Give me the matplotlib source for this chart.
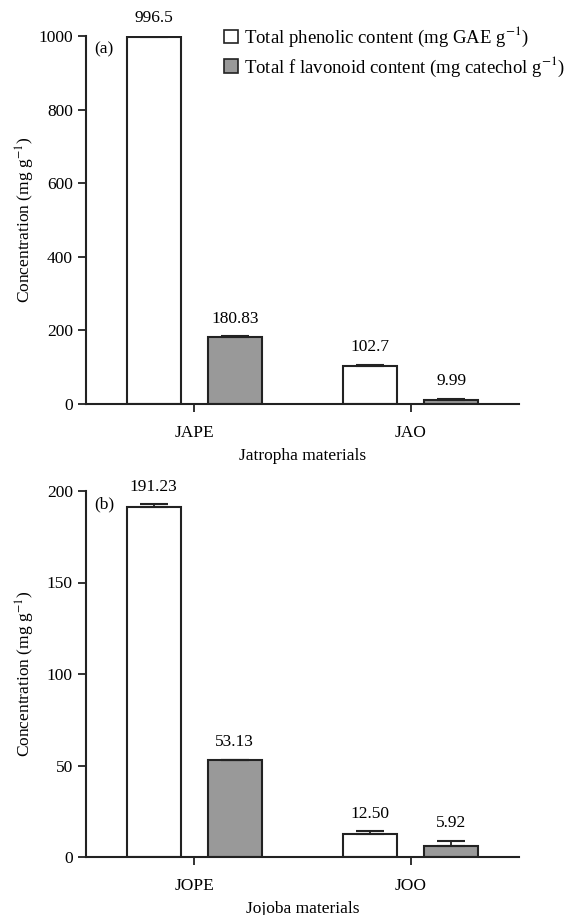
import numpy as np
import matplotlib
matplotlib.use("Agg")
import matplotlib.pyplot as plt
from matplotlib.patches import Patch

plt.rcParams['font.family'] = ['Liberation Serif', 'DejaVu Serif']
plt.rcParams['mathtext.fontset'] = 'stix'
plt.rcParams['font.size'] = 12

# data
jat_groups = ['JAPE', 'JAO']
jat_phenolic = [996.5, 102.7]
jat_phenolic_err = [3, 3]
jat_flavonoid = [180.83, 9.99]
jat_flavonoid_err = [3, 4]
jat_phenolic_lbl = ['996.5', '102.7']
jat_flavonoid_lbl = ['180.83', '9.99']

joj_groups = ['JOPE', 'JOO']
joj_phenolic = [191.23, 12.50]
joj_phenolic_err = [1.5, 1.5]
joj_flavonoid = [53.13, 5.92]
joj_flavonoid_err = [0.0, 2.8]
joj_phenolic_lbl = ['191.23', '12.50']
joj_flavonoid_lbl = ['53.13', '5.92']

legend_labels = [r'Total phenolic content (mg GAE g$^{-1}$)',
                 r'Total f lavonoid content (mg catechol g$^{-1}$)']
gray = '#999999'
fs = 12.5

fig = plt.figure(figsize=(5.68, 9.15), dpi=100)
ax1 = fig.add_axes([86/568, 1-404/915, 433/568, 368/915])
ax2 = fig.add_axes([86/568, 1-857/915, 433/568, 366/915])


def draw(ax, groups, ph, ph_err, fl, fl_err, ph_lbl, fl_lbl, ymax, step, xlabel, tag):
    x = np.arange(len(groups))
    w = 0.25
    off = 0.1875
    for xs, vals, errs, lbls, col in [(x - off, ph, ph_err, ph_lbl, 'white'),
                                      (x + off, fl, fl_err, fl_lbl, gray)]:
        ax.bar(xs, vals, w, color=col, edgecolor='#222222', linewidth=1.5, zorder=2)
        ax.errorbar(xs, vals, yerr=[np.zeros(len(errs)), errs], fmt='none',
                    ecolor='#222222', elinewidth=1.3, capsize=10, capthick=1.5, zorder=3)
        for xi, v, e, t in zip(xs, vals, errs, lbls):
            ax.annotate(t, (xi, v + e), xytext=(0, 7), textcoords='offset points',
                        ha='center', va='bottom', fontsize=fs)
    ax.set_xlim(-0.5, 1.5)
    ax.set_ylim(0, ymax)
    ax.set_yticks(np.arange(0, ymax + 1, step))
    ax.set_xticks(x)
    ax.set_xticklabels(groups)
    for s in ['top', 'right']:
        ax.spines[s].set_visible(False)
    for s in ['left', 'bottom']:
        ax.spines[s].set_linewidth(1.5)
        ax.spines[s].set_color('#222222')
    ax.tick_params(direction='out', length=6, width=1.3, labelsize=fs, color='#222222')
    ax.tick_params(axis='x', pad=9)
    ax.set_ylabel(r'Concentration (mg g$^{-1}$)', fontsize=fs)
    ax.yaxis.set_label_coords(-0.113, 0.5)
    ax.set_xlabel(xlabel, fontsize=fs, labelpad=5)
    ax.text(0.02, 0.985, tag, transform=ax.transAxes, ha='left', va='top', fontsize=fs)


draw(ax1, jat_groups, jat_phenolic, jat_phenolic_err, jat_flavonoid, jat_flavonoid_err,
     jat_phenolic_lbl, jat_flavonoid_lbl, 1000, 200, 'Jatropha materials', '(a)')
draw(ax2, joj_groups, joj_phenolic, joj_phenolic_err, joj_flavonoid, joj_flavonoid_err,
     joj_phenolic_lbl, joj_flavonoid_lbl, 200, 50, 'Jojoba materials', '(b)')

handles = [Patch(facecolor='white', edgecolor='#222222', linewidth=1.2),
           Patch(facecolor=gray, edgecolor='#222222', linewidth=1.2)]
fig.legend(handles, legend_labels, loc='upper left', bbox_to_anchor=(224/568, 1-25/915),
           frameon=False, borderaxespad=0, borderpad=0, handlelength=0.75,
           handleheight=0.75, handletextpad=0.3, labelspacing=0.3, fontsize=13.5)

fig.savefig('out.png', dpi=100)
